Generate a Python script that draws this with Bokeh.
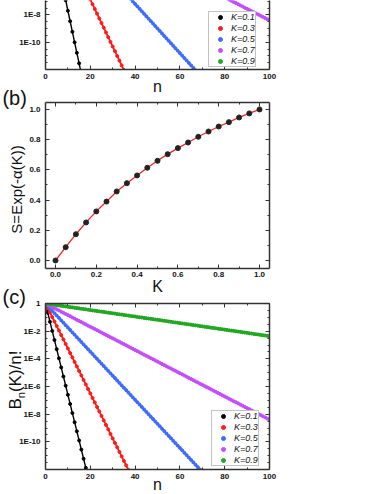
from bokeh.plotting import figure
from bokeh.layouts import column
from bokeh.models import (LinearAxis, LogAxis, FixedTicker, CustomJSTickFormatter,
                          PrintfTickFormatter, Label, Legend, LegendItem, Range1d,
                          GlobalInlineStyleSheet)
from bokeh.embed import file_html
from bokeh.resources import INLINE

# ---------------- data ----------------
k_labels = ["K=0.1", "K=0.3", "K=0.5", "K=0.7", "K=0.9"]
colors = ["#000000", "#ff1a1a", "#3d6bff", "#c44dff", "#22a822"]

# panel (a): log10 of the plotted quantity, one value per n = 0, 1, 2, ...
a_log_k01 = [0, -0.77, -1.54, -2.31, -3.08, -3.85, -4.62, -5.39, -6.16, -6.93, -7.70,
             -8.47, -9.24, -10.01, -10.78, -11.55, -12.32]
a_log_k03 = [0, -0.34, -0.69, -1.03, -1.38, -1.72, -2.06, -2.41, -2.75, -3.10, -3.44,
             -3.78, -4.13, -4.47, -4.82, -5.16, -5.50, -5.85, -6.19, -6.54, -6.88,
             -7.22, -7.57, -7.91, -8.26, -8.60, -8.94, -9.29, -9.63, -9.98, -10.32,
             -10.66, -11.01, -11.35, -11.70, -12.04, -12.38]
a_log_k05 = [0, -0.18, -0.36, -0.54, -0.72, -0.90, -1.08, -1.26, -1.44, -1.62, -1.80,
             -1.98, -2.16, -2.34, -2.52, -2.70, -2.88, -3.06, -3.24, -3.42, -3.60,
             -3.78, -3.96, -4.14, -4.32, -4.50, -4.68, -4.86, -5.04, -5.22, -5.40,
             -5.58, -5.76, -5.94, -6.12, -6.30, -6.48, -6.66, -6.84, -7.02, -7.20,
             -7.38, -7.56, -7.74, -7.92, -8.10, -8.28, -8.46, -8.64, -8.82, -9.00,
             -9.18, -9.36, -9.54, -9.72, -9.90, -10.08, -10.26, -10.44, -10.62, -10.80,
             -10.98, -11.16, -11.34, -11.52, -11.70, -11.88, -12.06, -12.24]

# panel (c): log10 of B_n(K)/n!, one value per n = 0, 1, 2, ...
c_log_k01 = [0, -0.66, -1.32, -1.98, -2.64, -3.30, -3.96, -4.62, -5.28, -5.94, -6.60,
             -7.26, -7.92, -8.58, -9.24, -9.90, -10.56, -11.22, -11.88, -12.54]
c_log_k03 = [0, -0.33, -0.65, -0.98, -1.30, -1.63, -1.95, -2.28, -2.60, -2.93, -3.25,
             -3.58, -3.90, -4.23, -4.55, -4.88, -5.20, -5.53, -5.85, -6.18, -6.50,
             -6.83, -7.15, -7.48, -7.80, -8.13, -8.45, -8.78, -9.10, -9.43, -9.75,
             -10.08, -10.40, -10.73, -11.05, -11.38, -11.70, -12.03, -12.35]
c_log_k05 = [0, -0.17, -0.35, -0.52, -0.70, -0.87, -1.04, -1.22, -1.39, -1.57, -1.74,
             -1.91, -2.09, -2.26, -2.44, -2.61, -2.78, -2.96, -3.13, -3.31, -3.48,
             -3.65, -3.83, -4.00, -4.18, -4.35, -4.52, -4.70, -4.87, -5.05, -5.22,
             -5.39, -5.57, -5.74, -5.92, -6.09, -6.26, -6.44, -6.61, -6.79, -6.96,
             -7.13, -7.31, -7.48, -7.66, -7.83, -8.00, -8.18, -8.35, -8.53, -8.70,
             -8.87, -9.05, -9.22, -9.40, -9.57, -9.74, -9.92, -10.09, -10.27, -10.44,
             -10.61, -10.79, -10.96, -11.14, -11.31, -11.48, -11.66, -11.83, -12.01, -12.18]
c_log_k07 = [0, -0.08, -0.17, -0.25, -0.34, -0.42, -0.50, -0.59, -0.67, -0.76, -0.84,
             -0.92, -1.01, -1.09, -1.18, -1.26, -1.34, -1.43, -1.51, -1.60, -1.68,
             -1.76, -1.85, -1.93, -2.02, -2.10, -2.18, -2.27, -2.35, -2.44, -2.52,
             -2.60, -2.69, -2.77, -2.86, -2.94, -3.02, -3.11, -3.19, -3.28, -3.36,
             -3.44, -3.53, -3.61, -3.70, -3.78, -3.86, -3.95, -4.03, -4.12, -4.20,
             -4.28, -4.37, -4.45, -4.54, -4.62, -4.70, -4.79, -4.87, -4.96, -5.04,
             -5.12, -5.21, -5.29, -5.38, -5.46, -5.54, -5.63, -5.71, -5.80, -5.88,
             -5.96, -6.05, -6.13, -6.22, -6.30, -6.38, -6.47, -6.55, -6.64, -6.72,
             -6.80, -6.89, -6.97, -7.06, -7.14, -7.22, -7.31, -7.39, -7.48, -7.56,
             -7.64, -7.73, -7.81, -7.90, -7.98, -8.06, -8.15, -8.23, -8.32, -8.40]
c_log_k09 = [0, -0.02, -0.05, -0.07, -0.09, -0.12, -0.14, -0.17, -0.19, -0.21, -0.24,
             -0.26, -0.28, -0.31, -0.33, -0.35, -0.38, -0.40, -0.42, -0.45, -0.47,
             -0.50, -0.52, -0.54, -0.57, -0.59, -0.61, -0.64, -0.66, -0.68, -0.71,
             -0.73, -0.76, -0.78, -0.80, -0.83, -0.85, -0.87, -0.90, -0.92, -0.94,
             -0.97, -0.99, -1.01, -1.04, -1.06, -1.09, -1.11, -1.13, -1.16, -1.18,
             -1.20, -1.23, -1.25, -1.27, -1.30, -1.32, -1.35, -1.37, -1.39, -1.42,
             -1.44, -1.46, -1.49, -1.51, -1.53, -1.56, -1.58, -1.60, -1.63, -1.65,
             -1.68, -1.70, -1.72, -1.75, -1.77, -1.79, -1.82, -1.84, -1.86, -1.89,
             -1.91, -1.94, -1.96, -1.98, -2.01, -2.03, -2.05, -2.08, -2.10, -2.12,
             -2.15, -2.17, -2.20, -2.22, -2.24, -2.27, -2.29, -2.31, -2.34, -2.36]
a_log_k07 = list(c_log_k07)
a_log_k09 = list(c_log_k09)

# panel (b)
b_K = [0.0, 0.05, 0.10, 0.15, 0.20, 0.25, 0.30, 0.35, 0.40, 0.45, 0.50,
       0.55, 0.60, 0.65, 0.70, 0.75, 0.80, 0.85, 0.90, 0.95, 1.00]
b_S = [0.0, 0.088, 0.174, 0.252, 0.325, 0.390, 0.457, 0.512, 0.563, 0.614, 0.660,
       0.704, 0.744, 0.781, 0.819, 0.854, 0.887, 0.916, 0.947, 0.974, 1.000]

n_ticks = [0, 20, 40, 60, 80, 100]
n_minor = [10, 30, 50, 70, 90]
log_major = [1e0, 1e-2, 1e-4, 1e-6, 1e-8, 1e-10]
log_minor = [10 ** (-k / 2) for k in range(0, 25) if k % 4 != 0]
lin_major = [0.0, 0.2, 0.4, 0.6, 0.8, 1.0]
lin_minor = [0.1, 0.3, 0.5, 0.7, 0.9]

FONT = "Liberation Sans"
AXC = "#333333"
VERT = 1.5707963
OVER = 12   # px by which a panel's canvas overlaps the one above (transparent)


def blank_formatter():
    return CustomJSTickFormatter(code='return "";')


def style_axis(ax, show_labels=True, standoff=3):
    ax.axis_line_color = AXC
    ax.axis_line_width = 1.5
    ax.major_tick_in = 4
    ax.major_tick_out = 0
    ax.minor_tick_in = 2
    ax.minor_tick_out = 0
    ax.major_tick_line_color = AXC
    ax.minor_tick_line_color = AXC
    ax.major_label_text_font = FONT
    ax.major_label_text_font_style = "bold"
    ax.major_label_text_font_size = "8px"
    ax.major_label_standoff = standoff if show_labels else 0
    if show_labels:
        ax.major_label_text_color = "#111111"
    else:
        ax.major_label_text_alpha = 0.0
        ax.formatter = blank_formatter()


def log_formatter():
    return CustomJSTickFormatter(code="""
        const e = Math.round(Math.log10(tick));
        return e === 0 ? "1" : "1E" + e;
    """)


def label(p, text, x, y, size, angle=0, align="left", baseline="alphabetic"):
    # placed in the roomy right border so it is not clipped to the frame;
    # its position is given in the panel's data coordinates
    p.add_layout(Label(x=x, y=y, x_units="data", y_units="data", text=text,
                       angle=angle, text_align=align, text_baseline=baseline,
                       text_font=FONT, text_font_size=size,
                       text_color="#111111"), "right")


def base_fig(height, top_b, bottom_b, x_range, y_range, log=False, margin=None):
    kw = dict(y_axis_type="log") if log else {}
    return figure(width=382, height=height, output_backend="svg",
                  toolbar_location=None, x_range=x_range, y_range=y_range,
                  min_border_left=45, min_border_right=113, min_border_top=top_b,
                  min_border_bottom=bottom_b, outline_line_color=None,
                  background_fill_alpha=0, border_fill_alpha=0, margin=margin, **kw)


def log_panel(height, top_b, bottom_b, y_top, logs, legend_xy, top_axis, margin=None):
    p = base_fig(height, top_b, bottom_b, Range1d(0, 100), Range1d(1e-12, y_top),
                 log=True, margin=margin)
    p.xgrid.visible = False
    p.ygrid.visible = False
    xa = p.xaxis[0]
    xa.ticker = FixedTicker(ticks=n_ticks, minor_ticks=n_minor)
    style_axis(xa, True, 4)
    ya = p.yaxis[0]
    ya.ticker = FixedTicker(ticks=log_major, minor_ticks=log_minor)
    ya.formatter = log_formatter()
    style_axis(ya, True, 5)
    ra = LogAxis(ticker=FixedTicker(ticks=log_major, minor_ticks=log_minor))
    style_axis(ra, False)
    p.add_layout(ra, "right")
    if top_axis:
        ta = LinearAxis(ticker=FixedTicker(ticks=n_ticks, minor_ticks=n_minor))
        style_axis(ta, False)
        p.add_layout(ta, "above")
    items = []
    for lg, col, lab in zip(logs, colors, k_labels):
        n = list(range(len(lg)))
        vals = [10 ** v for v in lg]
        lw = 2.6 if lab == "K=0.9" else (1.4 if lab == "K=0.1" else 1.8)
        p.line(n, vals, line_color=col, line_width=lw)
        r = p.scatter(n, vals, size=3, color=col)
        items.append(LegendItem(label=lab, renderers=[r]))
    leg = Legend(items=items, location=legend_xy, margin=0, padding=0, spacing=1,
                 label_height=10, glyph_height=10, glyph_width=22, label_standoff=0,
                 label_text_font=FONT, label_text_font_size="9px",
                 label_text_font_style="italic", label_text_color="#111111",
                 border_line_color="#888888", border_line_width=1,
                 background_fill_color="white", background_fill_alpha=1)
    p.add_layout(leg)
    return p


# ---------------- panel (a) (top part cut off) ----------------
pa = log_panel(83, 0, 14, 10 ** -6.95,
               [a_log_k01, a_log_k03, a_log_k05, a_log_k07, a_log_k09],
               (163, 2), False)

# ---------------- panel (b) ----------------
pb = base_fig(197 + OVER, 19 + OVER, 12, Range1d(-0.049, 1.049),
              Range1d(-0.053, 1.046), margin=(-OVER, 0, 0, 0))
pb.xgrid.visible = False
pb.ygrid.visible = False
for ax in (pb.xaxis[0], pb.yaxis[0]):
    ax.ticker = FixedTicker(ticks=lin_major, minor_ticks=lin_minor)
    ax.formatter = PrintfTickFormatter(format="%.1f")
style_axis(pb.xaxis[0], True, 3)
style_axis(pb.yaxis[0], True, 5)
for loc in ("right", "above"):
    ax = LinearAxis(ticker=FixedTicker(ticks=lin_major, minor_ticks=lin_minor))
    style_axis(ax, False)
    pb.add_layout(ax, loc)
pb.line(b_K, b_S, line_color="#ff2020", line_width=1.3)
pb.scatter(b_K, b_S, size=5, color="#222222")
# x-axis title of panel (a), which sits just above panel (b)
label(pb, "n", 0.50, 1.155, "16px", align="center")
label(pb, "(b)", -0.26, 1.079, "20px")
label(pb, "S=Exp(-\u03b1(K))", -0.191, 0.47, "15px", angle=VERT, align="center",
      baseline="middle")

# ---------------- panel (c) ----------------
pc = log_panel(214 + OVER, 23 + OVER, 25, 1.0,
               [c_log_k01, c_log_k03, c_log_k05, c_log_k07, c_log_k09],
               (166, 3), True, margin=(-OVER, 0, 0, 0))
# x-axis title of panel (b), which sits just above panel (c)
label(pc, "K", 50, 10 ** 1.193, "16px", align="center")
label(pc, "(c)", -19.2, 10 ** 0.506, "20px")
label(pc, "n", 50, 10 ** -13.12, "16px", align="center")
label(pc, "B", -13.39, 10 ** -7.663, "17px", angle=VERT, baseline="middle")
label(pc, "n", -11.16, 10 ** -6.846, "11px", angle=VERT, baseline="middle")
label(pc, "(K)/n!", -13.39, 10 ** -6.405, "17px", angle=VERT, baseline="middle")

layout = column(pa, pb, pc, spacing=0,
                stylesheets=[GlobalInlineStyleSheet(
                    css="body { margin: 0; background: white; }")])

open("out.html", "w").write(file_html(layout, INLINE))
